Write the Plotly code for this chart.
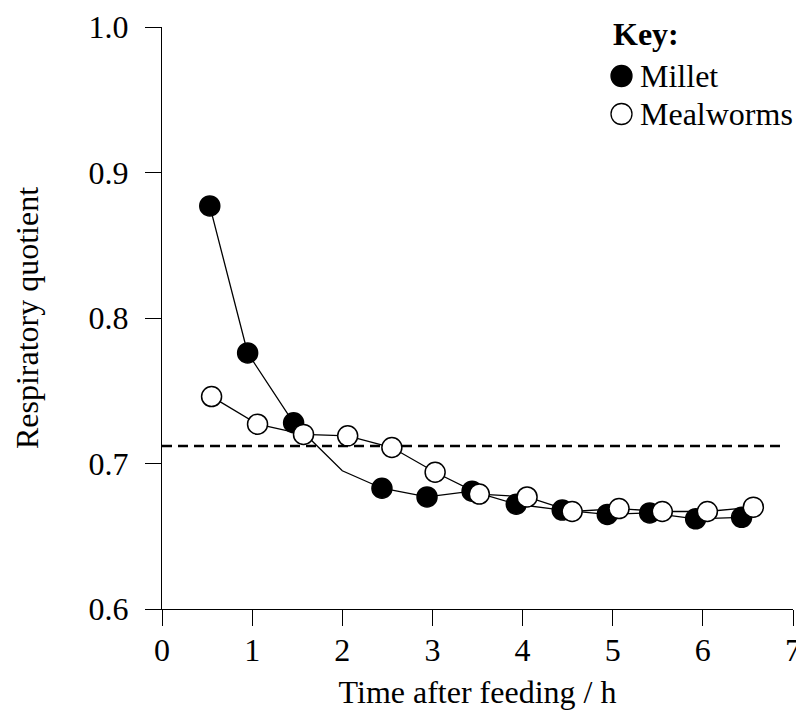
import plotly.graph_objects as go

# Data
millet_time = [0.53, 0.95, 1.46, 2.00, 2.44, 2.94, 3.44, 3.93, 4.44, 4.94, 5.41, 5.92, 6.43]
millet_rq = [0.877, 0.776, 0.728, 0.695, 0.683, 0.677, 0.681, 0.672, 0.668, 0.665, 0.666, 0.662, 0.663]
millet_has_marker = [True, True, True, False, True, True, True, True, True, True, True, True, True]

mealworm_time = [0.55, 1.06, 1.57, 2.06, 2.55, 3.03, 3.52, 4.05, 4.55, 5.07, 5.55, 6.05, 6.56]
mealworm_rq = [0.746, 0.727, 0.720, 0.719, 0.711, 0.694, 0.679, 0.677, 0.667, 0.669, 0.667, 0.667, 0.670]

reference_rq = 0.712
reference_span = [0, 6.91]

x_ticks = [0, 1, 2, 3, 4, 5, 6, 7]
y_ticks = [0.6, 0.7, 0.8, 0.9, 1.0]
y_ticktext = ["0.6", "0.7", "0.8", "0.9", "1.0"]

FONT = "Liberation Serif, Times New Roman, serif"
W, H = 796, 713
ML, MR, MT, MB = 162, 3, 27, 104
PW, PH = W - ML - MR, H - MT - MB


def px2paper(px, py):
    return (px - ML) / PW, (H - MB - py) / PH


fig = go.Figure()

# connecting lines
fig.add_trace(go.Scatter(x=millet_time, y=millet_rq, mode="lines",
                         line=dict(color="black", width=1.3), showlegend=False,
                         hoverinfo="skip"))
fig.add_trace(go.Scatter(x=mealworm_time, y=mealworm_rq, mode="lines",
                         line=dict(color="black", width=1.3), showlegend=False,
                         hoverinfo="skip"))

# markers
mx = [t for t, m in zip(millet_time, millet_has_marker) if m]
my = [v for v, m in zip(millet_rq, millet_has_marker) if m]
fig.add_trace(go.Scatter(x=mx, y=my, mode="markers", name="Millet",
                         marker=dict(size=20, color="black",
                                     line=dict(color="black", width=1.5)),
                         showlegend=False))
fig.add_trace(go.Scatter(x=mealworm_time, y=mealworm_rq, mode="markers",
                         name="Mealworms",
                         marker=dict(size=20, color="white",
                                     line=dict(color="black", width=1.5)),
                         showlegend=False))

# dashed reference line
fig.add_shape(type="line", xref="x", yref="y",
              x0=reference_span[0], x1=reference_span[1],
              y0=reference_rq, y1=reference_rq,
              line=dict(color="black", width=2.5, dash="10px,6px"),
              layer="below")

# Key (legend drawn manually)
key_items = [
    ("<b>Key:</b>", None, 612, 34),
    ("Millet", "black", 639, 76),
    ("Mealworms", "white", 639, 114),
]
for text, fill, tx, ty in key_items:
    ax, ay = px2paper(tx, ty)
    fig.add_annotation(text=text, xref="paper", yref="paper", x=ax, y=ay,
                       xanchor="left", yanchor="middle", showarrow=False,
                       font=dict(family=FONT, size=32, color="black"),
                       borderpad=0)
    if fill is not None:
        cx, cy = px2paper(621.5, ty)
        fig.add_shape(type="circle", xref="paper", yref="paper",
                      xsizemode="pixel", ysizemode="pixel",
                      xanchor=cx, yanchor=cy,
                      x0=-10.5, x1=10.5, y0=-10.5, y1=10.5,
                      fillcolor=fill, line=dict(color="black", width=1.3))

fig.update_layout(
    width=W, height=H,
    margin=dict(l=ML, r=MR, t=MT, b=MB, autoexpand=False),
    paper_bgcolor="white", plot_bgcolor="white",
    font=dict(family=FONT, size=32, color="black"),
    showlegend=False,
    xaxis=dict(range=[0, 7], tickvals=x_ticks, showgrid=False, zeroline=False,
               showline=True, linecolor="black", linewidth=1.3,
               ticks="outside", ticklen=16, tickwidth=1.3, tickcolor="black",
               tickfont=dict(family=FONT, size=32), ticklabeloverflow="allow",
               ticklabelstandoff=-4,
               title=dict(text="Time after feeding / h", standoff=14,
                          font=dict(family=FONT, size=32)),
               automargin=False, fixedrange=True),
    yaxis=dict(range=[0.6, 1.0], tickvals=y_ticks, ticktext=y_ticktext,
               showgrid=False, zeroline=False,
               showline=True, linecolor="black", linewidth=1.3,
               ticks="outside", ticklen=16, tickwidth=1.3, tickcolor="black",
               tickfont=dict(family=FONT, size=32), ticklabelstandoff=10,
               ticklabeloverflow="allow",
               title=dict(text="Respiratory quotient", standoff=40,
                          font=dict(family=FONT, size=32)),
               automargin=False, fixedrange=True),
)

fig.write_html("out.html", config={"displayModeBar": False})
